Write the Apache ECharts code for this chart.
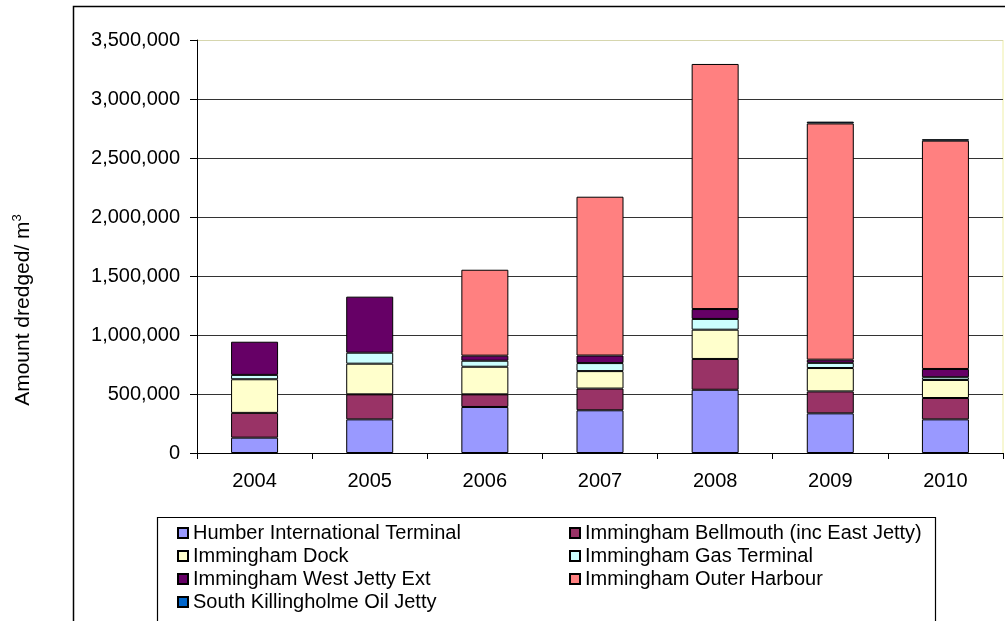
<!DOCTYPE html>
<html>
<head>
<meta charset="utf-8">
<script src="https://cdn.jsdelivr.net/npm/echarts@6/dist/echarts.min.js"></script>
<style>
  html, body { margin: 0; padding: 0; background: #fff; }
  #chart { width: 1005px; height: 621px; }
</style>
</head>
<body>
<div id="chart"></div>
<script>
// Annual dredged volumes (m³) at each Humber berth, 2004–2010
const years = ['2004', '2005', '2006', '2007', '2008', '2009', '2010'];

const humberInternational = [130000, 285000, 390000, 362000, 536000, 336000, 285000];
const bellmouth           = [210000, 212000, 107000, 184000, 261000, 186000, 181000];
const immDock             = [285000, 260000, 234000, 148000, 248000, 198000, 153000];
const gasTerminal         = [37000, 93000, 51000, 68000, 91000, 44000, 23000];
const westJettyExt        = [281000, 475000, 43000, 64000, 84000, 27000, 70000];
const outerHarbour        = [null, null, 728000, 1346000, 2077000, 2002000, 1935000];
const southKillingholme   = [null, null, null, null, null, 15000, 12000];

const yTicks = [0, 500000, 1000000, 1500000, 2000000, 2500000, 3000000, 3500000];

const seriesDefs = [
  { name: 'Humber International Terminal', data: humberInternational, color: '#9999FF' },
  { name: 'Immingham Bellmouth (inc East Jetty)', data: bellmouth, color: '#993366' },
  { name: 'Immingham Dock', data: immDock, color: '#FFFFCC' },
  { name: 'Immingham Gas Terminal', data: gasTerminal, color: '#CCFFFF' },
  { name: 'Immingham West Jetty Ext', data: westJettyExt, color: '#660066' },
  { name: 'Immingham Outer Harbour', data: outerHarbour, color: '#FF8080' },
  { name: 'South Killingholme Oil Jetty', data: southKillingholme, color: '#0066CC' }
];

const FONT = 'Liberation Sans, Arial, sans-serif';

const chart = echarts.init(document.getElementById('chart'), null, { renderer: 'canvas' });

const fmt = v => v.toLocaleString('en-US');

// grid line colours: dark inside, pale olive border along the top
const splitColors = yTicks.map((t, i) => i === yTicks.length - 1 ? '#d6d6ae' : '#333333');

const legendText = { color: '#000', fontFamily: FONT, fontSize: 20, lineHeight: 20 };

chart.setOption({
  animation: false,
  backgroundColor: '#ffffff',
  textStyle: { fontFamily: FONT },
  grid: { left: 197, right: 2, top: 40, bottom: 168, containLabel: false },
  legend: [
    {
      orient: 'vertical', left: 172, top: 518, itemWidth: 10, itemHeight: 10, itemGap: 3,
      icon: 'rect', textStyle: legendText, selectedMode: false,
      data: [seriesDefs[0].name, seriesDefs[2].name, seriesDefs[4].name, seriesDefs[6].name]
    },
    {
      orient: 'vertical', left: 564, top: 518, itemWidth: 10, itemHeight: 10, itemGap: 3,
      icon: 'rect', textStyle: legendText, selectedMode: false,
      data: [seriesDefs[1].name, seriesDefs[3].name, seriesDefs[5].name]
    }
  ],
  xAxis: {
    type: 'category',
    data: years,
    boundaryGap: true,
    axisLine: { lineStyle: { color: '#000', width: 1 } },
    axisTick: { show: true, length: 6, alignWithLabel: false, lineStyle: { color: '#000' } },
    axisLabel: { color: '#000', fontSize: 20, fontFamily: FONT, margin: 18 },
    splitLine: { show: false }
  },
  yAxis: {
    type: 'value',
    min: 0,
    max: 3500000,
    interval: 500000,
    axisLine: { show: true, lineStyle: { color: '#000', width: 1 } },
    axisTick: { show: true, length: 7, lineStyle: { color: '#000' } },
    axisLabel: { color: '#000', fontSize: 20, fontFamily: FONT, margin: 17, formatter: v => fmt(v) },
    splitLine: { show: true, lineStyle: { color: splitColors, width: 1 } }
  },
  series: seriesDefs.map(s => ({
    name: s.name,
    type: 'bar',
    stack: 'total',
    barWidth: 47,
    data: s.data,
    itemStyle: { color: s.color, borderColor: '#000', borderWidth: 1 },
    emphasis: { disabled: true }
  })),
  graphic: [
    // outer chart frame
    { type: 'rect', shape: { x: 73.5, y: 6.5, width: 1000, height: 700 },
      style: { fill: null, stroke: '#000', lineWidth: 1.5 }, silent: true, z: 0 },
    // pale right edge of the plot area
    { type: 'line', shape: { x1: 1003, y1: 40, x2: 1003, y2: 453 },
      style: { stroke: '#f4f4c4', lineWidth: 1.5 }, silent: true },
    // legend frame
    { type: 'rect', shape: { x: 157.5, y: 517.5, width: 778, height: 120 },
      style: { fill: null, stroke: '#000', lineWidth: 1.2 }, silent: true },
    // y-axis title
    { type: 'text', x: 23, y: 310, rotation: Math.PI / 2,
      style: {
        text: '{a|Amount dredged/ m}{s|3}',
        align: 'center', verticalAlign: 'middle',
        rich: {
          a: { fontSize: 21, fontFamily: FONT, fill: '#000', lineHeight: 24 },
          s: { fontSize: 13, fontFamily: FONT, fill: '#000', verticalAlign: 'top', lineHeight: 24 }
        }
      }, silent: true }
  ]
});
</script>
</body>
</html>
